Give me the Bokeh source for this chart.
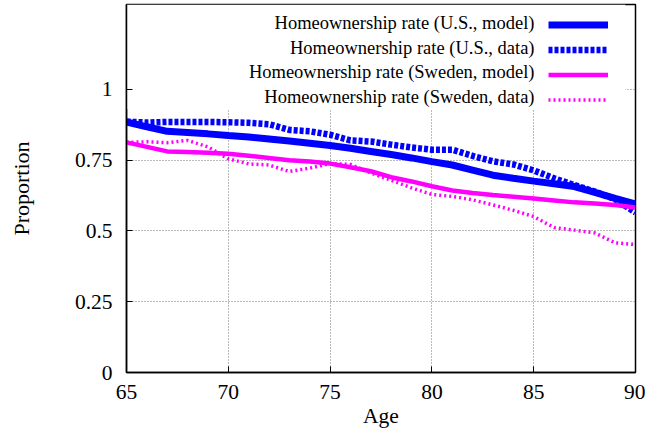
from bokeh.plotting import figure
from bokeh.models import Legend, LegendItem, BoxAnnotation, Range1d, FixedTicker, NumeralTickFormatter, Label
from bokeh.core.properties import value
from bokeh.embed import file_html
from bokeh.resources import INLINE

ages = list(range(65, 91))
us_model = [0.885, 0.868, 0.852, 0.848, 0.843, 0.837, 0.832, 0.825, 0.818, 0.810,
            0.802, 0.792, 0.781, 0.770, 0.758, 0.745, 0.733, 0.715, 0.697, 0.686,
            0.676, 0.667, 0.657, 0.636, 0.615, 0.595]
us_data = [0.886, 0.883, 0.885, 0.885, 0.885, 0.884, 0.882, 0.877, 0.857, 0.852,
           0.840, 0.820, 0.816, 0.805, 0.795, 0.787, 0.787, 0.765, 0.746, 0.735,
           0.714, 0.686, 0.662, 0.639, 0.612, 0.565]
se_model = [0.813, 0.797, 0.781, 0.779, 0.776, 0.773, 0.766, 0.758, 0.750, 0.745,
            0.738, 0.725, 0.711, 0.690, 0.675, 0.658, 0.643, 0.634, 0.627, 0.621,
            0.615, 0.608, 0.601, 0.597, 0.592, 0.583]
se_data = [0.813, 0.815, 0.812, 0.820, 0.797, 0.755, 0.737, 0.733, 0.710, 0.722,
           0.738, 0.735, 0.705, 0.679, 0.652, 0.629, 0.622, 0.610, 0.592, 0.573,
           0.551, 0.512, 0.503, 0.493, 0.458, 0.452]
series_labels = ["Homeownership rate (U.S., model)",
                 "Homeownership rate (U.S., data)",
                 "Homeownership rate (Sweden, model)",
                 "Homeownership rate (Sweden, data)"]
x_ticks = [65, 70, 75, 80, 85, 90]
y_ticks = [0, 0.25, 0.5, 0.75, 1]
x_title = "Age"
y_title = "Proportion"

FONT = "Liberation Serif"
Y_TOP = 1.3

p = figure(width=645, height=430, output_backend="svg", toolbar_location=None,
           x_range=Range1d(65, 90), y_range=Range1d(0, Y_TOP),
           min_border_left=126, min_border_right=10, min_border_top=4,
           min_border_bottom=58, background_fill_color="white",
           border_fill_color="white")

p.outline_line_color = "black"
p.outline_line_width = 1.5

for ax in (p.xaxis[0], p.yaxis[0]):
    ax.axis_line_color = "black"
    ax.axis_line_width = 1.5
    ax.major_tick_line_color = "black"
    ax.major_tick_in = 6
    ax.major_tick_out = 0
    ax.minor_tick_line_color = None
    ax.major_label_text_font = FONT
    ax.major_label_text_font_size = "21.5px"
    ax.major_label_text_color = "black"
    ax.axis_label_text_font = FONT
    ax.axis_label_text_font_style = "normal"
    ax.axis_label_text_color = "black"

p.xaxis.ticker = FixedTicker(ticks=x_ticks)
p.yaxis.ticker = FixedTicker(ticks=y_ticks)
p.yaxis.formatter = NumeralTickFormatter(format="0.[00]")
p.xaxis.axis_label = x_title
p.yaxis.axis_label = y_title
p.xaxis.axis_label_text_font_size = "21.5px"
p.yaxis.axis_label_text_font_size = "22px"
p.xaxis.major_label_standoff = 12
p.xaxis.axis_label_standoff = 2
p.yaxis.major_label_standoff = 14
p.yaxis.axis_label_standoff = 38

for g in (p.xgrid[0], p.ygrid[0]):
    g.grid_line_color = "#777777"
    g.grid_line_dash = "1 2"
    g.grid_line_width = 1

# opaque key background (covers grid lines like gnuplot's opaque key)
key_bg = BoxAnnotation(left=65, right=89.5, bottom=0.931, top=Y_TOP,
                       fill_color="white", fill_alpha=1.0, line_color=None,
                       level="underlay")
p.add_layout(key_bg)

r1 = p.line(ages, us_model, line_color="#0000ff", line_width=7)
r2 = p.line(ages, us_data, line_color="#0000ff", line_width=6.5, line_dash="4 2")
r3 = p.line(ages, se_model, line_color="#ff00ff", line_width=4.5)
r4 = p.line(ages, se_data, line_color="#ff00ff", line_width=3.5, line_dash="2 3")

# key: line samples on the right, right-aligned texts to their left
items = [LegendItem(label=value(""), renderers=[r]) for r in [r1, r2, r3, r4]]
legend = Legend(items=items, location=(422, 260), glyph_width=60, glyph_height=25,
                label_height=25, label_width=0, spacing=0, padding=0, margin=0,
                label_standoff=0, border_line_color=None, background_fill_alpha=0)
p.add_layout(legend)

key_rows = [1.236, 1.148, 1.061, 0.973]
for lab, yv in zip(series_labels, key_rows):
    p.add_layout(Label(x=85.04, y=yv, text=lab, text_font=FONT,
                       text_font_size="18.5px", text_color="black",
                       text_align="right", text_baseline="middle"))

open("out.html", "w").write(file_html(p, INLINE))
